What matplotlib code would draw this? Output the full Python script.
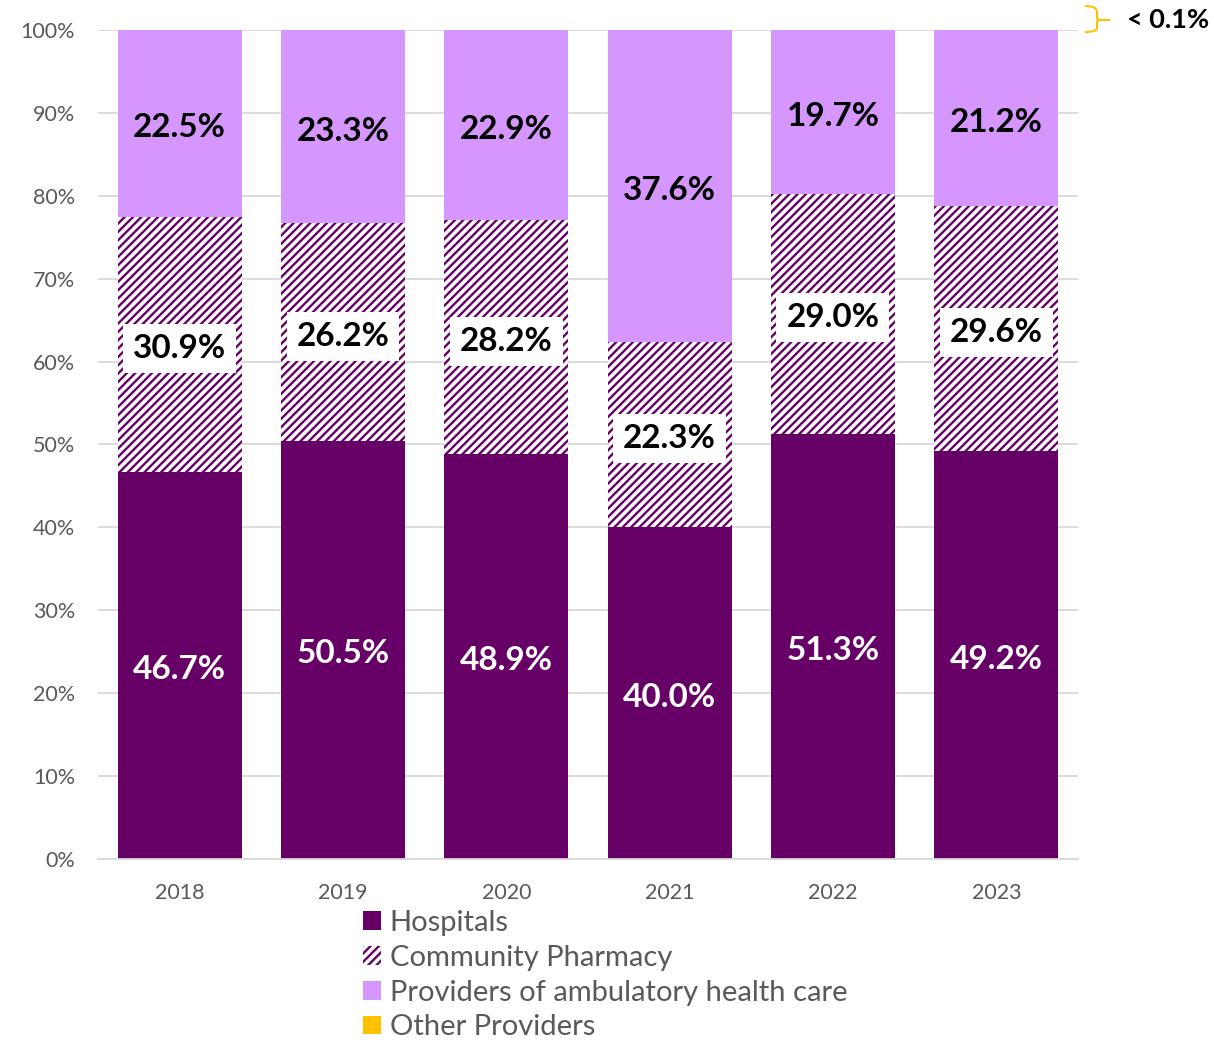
import numpy as np
import matplotlib
matplotlib.use("Agg")
from matplotlib import pyplot as plt
from matplotlib.patches import Patch, PathPatch
from matplotlib.path import Path

plt.rcParams['font.family'] = ['Lato', 'DejaVu Sans']
plt.rcParams['hatch.linewidth'] = 1.7

years = ['2018', '2019', '2020', '2021', '2022', '2023']
hospitals = [46.7, 50.5, 48.9, 40.0, 51.3, 49.2]
pharmacy = [30.9, 26.2, 28.2, 22.3, 29.0, 29.6]
ambulatory = [22.5, 23.3, 22.9, 37.6, 19.7, 21.2]
other = [0.05, 0.05, 0.05, 0.05, 0.05, 0.05]  # shown as "< 0.1%"

c_hosp = '#660066'
c_amb = '#D597FE'
c_other = '#FFC000'
grey = '#595959'

fig = plt.figure(figsize=(12.14, 10.4), dpi=100)
ax = fig.add_axes([98/1214, 1-859/1040, (1078-98)/1214, (859-30)/1040])

x = np.arange(len(years))
w = 0.76
hosp = np.array(hospitals)
pharm = np.array(pharmacy)
amb = np.array(ambulatory)
oth = np.array(other)
# normalise so each bar fills 100%
tot = hosp + pharm + amb + oth
hosp_n = hosp / tot * 100
pharm_n = pharm / tot * 100
amb_n = amb / tot * 100
oth_n = oth / tot * 100

ax.bar(x, hosp_n, w, color=c_hosp, zorder=2)
ax.bar(x, pharm_n, w, bottom=hosp_n, color='white', edgecolor=c_hosp,
       hatch='////', linewidth=0, zorder=2)
ax.bar(x, amb_n, w, bottom=hosp_n+pharm_n, color=c_amb, zorder=2)
ax.bar(x, oth_n, w, bottom=hosp_n+pharm_n+amb_n, color=c_other, zorder=2)

fs = 24
dy = -0.5  # small downward nudge of the labels
for i in range(len(years)):
    ax.text(x[i], hosp_n[i]/2 + dy, f'{hospitals[i]:.1f}%', ha='center', va='center',
            color='white', fontsize=fs, fontweight='bold', zorder=3)
    ax.text(x[i], hosp_n[i] + pharm_n[i]/2 + dy, f'{pharmacy[i]:.1f}%', ha='center', va='center',
            color='black', fontsize=fs, fontweight='bold', zorder=3,
            bbox=dict(boxstyle='square,pad=0.3', fc='white', ec='none'))
    ax.text(x[i], hosp_n[i] + pharm_n[i] + amb_n[i]/2 + dy, f'{ambulatory[i]:.1f}%', ha='center',
            va='center', color='black', fontsize=fs, fontweight='bold', zorder=3)

ax.set_xlim(-0.5, 5.5)
ax.set_ylim(0, 100)
ax.set_yticks(np.arange(0, 101, 10))
ax.set_yticklabels([f'{v}%' for v in range(0, 101, 10)])
ax.set_xticks(x)
ax.set_xticklabels(years)
ax.tick_params(axis='both', length=0, labelsize=15.5, labelcolor=grey)
ax.tick_params(axis='y', pad=16.5)
ax.tick_params(axis='x', pad=17)
ax.grid(axis='y', color='#D9D9D9', linewidth=1.3, zorder=0)
ax.set_axisbelow(True)
for s in ['top', 'right', 'left']:
    ax.spines[s].set_visible(False)
ax.spines['bottom'].set_color('#D9D9D9')
ax.spines['bottom'].set_linewidth(1.3)

# brace + "< 0.1%" note for Other Providers
W, H = 1214, 1040
def fp(px, py):
    return (px / W, 1 - py / H)
verts = [fp(1085, 6), fp(1097, 6), fp(1097, 12), fp(1097, 18),
         fp(1097, 20), fp(1100, 20), fp(1110, 20),
         fp(1100, 20), fp(1097, 20), fp(1097, 23),
         fp(1097, 28), fp(1097, 32), fp(1085, 32)]
codes = [Path.MOVETO, Path.CURVE3, Path.CURVE3, Path.LINETO,
         Path.CURVE3, Path.CURVE3, Path.LINETO,
         Path.MOVETO, Path.CURVE3, Path.CURVE3,
         Path.LINETO, Path.CURVE3, Path.CURVE3]
fig.add_artist(PathPatch(Path(verts, codes), transform=fig.transFigure,
                         fc='none', ec=c_other, lw=1.5))
fig.text(1127/W, 1-20/H, '< 0.1%', ha='left', va='center', fontsize=19.5,
         fontweight='bold', color='black')

handles = [Patch(facecolor=c_hosp, edgecolor='none'),
           Patch(facecolor='white', edgecolor=c_hosp, hatch='////', linewidth=0),
           Patch(facecolor=c_amb, edgecolor='none'),
           Patch(facecolor=c_other, edgecolor='none')]
labels = ['Hospitals', 'Community Pharmacy', 'Providers of ambulatory health care', 'Other Providers']
leg = fig.legend(handles, labels, loc='upper left', bbox_to_anchor=(363/W, 1-910/H),
                 frameon=False, fontsize=21, handlelength=0.62, handleheight=0.62,
                 handletextpad=0.3, labelspacing=0.3, borderpad=0, borderaxespad=0)
for t in leg.get_texts():
    t.set_color(grey)

fig.savefig('out.png', dpi=100)
